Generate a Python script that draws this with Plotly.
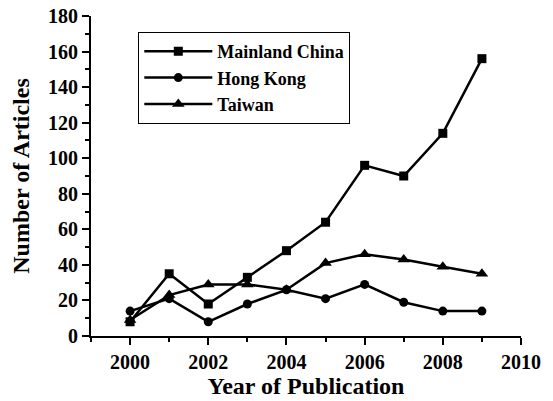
import plotly.graph_objects as go

years = [2000, 2001, 2002, 2003, 2004, 2005, 2006, 2007, 2008, 2009]
mainland_china = [8, 35, 18, 33, 48, 64, 96, 90, 114, 156]
hong_kong = [14, 21, 8, 18, 26, 21, 29, 19, 14, 14]
taiwan = [9, 23, 29, 29, 26, 41, 46, 43, 39, 35]

series = [
    ("Mainland China", mainland_china, "square", 9),
    ("Hong Kong", hong_kong, "circle", 9),
    ("Taiwan", taiwan, "triangle-up", 11),
]

font_family = "Liberation Serif"

fig = go.Figure()
for name, values, symbol, size in series:
    fig.add_trace(go.Scatter(
        x=years, y=values, name="<b>" + name + "</b>", mode="lines+markers",
        line=dict(color="black", width=2.5),
        marker=dict(symbol=symbol, size=size, color="black"),
    ))

axis_common = dict(
    showline=True, linecolor="black", linewidth=2,
    ticks="outside", tickcolor="black", tickwidth=2, ticklen=7,
    showgrid=False, zeroline=False, automargin=False,
    tickfont=dict(family=font_family, size=20, color="black", weight="bold"),
)

fig.update_xaxes(
    range=[1999, 2010], tickvals=[2000, 2002, 2004, 2006, 2008, 2010],
    minor=dict(dtick=1, tick0=2000, ticks="outside", ticklen=4, tickcolor="black", tickwidth=2),
    title=dict(text="<b>Year of Publication</b>", font=dict(family=font_family, size=24, color="black"), standoff=4),
    **axis_common,
)
fig.update_yaxes(
    range=[0, 180], dtick=20,
    minor=dict(dtick=10, ticks="outside", ticklen=4, tickcolor="black", tickwidth=2),
    title=dict(text="<b>Number of Articles</b>", font=dict(family=font_family, size=24, color="black"), standoff=12),
    **axis_common,
)

fig.update_layout(
    width=553, height=401,
    margin=dict(l=91, r=32, t=16, b=65),
    paper_bgcolor="white", plot_bgcolor="white",
    font=dict(family=font_family),
    showlegend=True,
    legend=dict(
        x=0.11, y=0.95, xanchor="left", yanchor="top",
        bordercolor="black", borderwidth=1, bgcolor="white",
        font=dict(family=font_family, size=18, color="black"),
        itemwidth=68, tracegroupgap=0,
    ),
)

fig.write_html("out.html")
